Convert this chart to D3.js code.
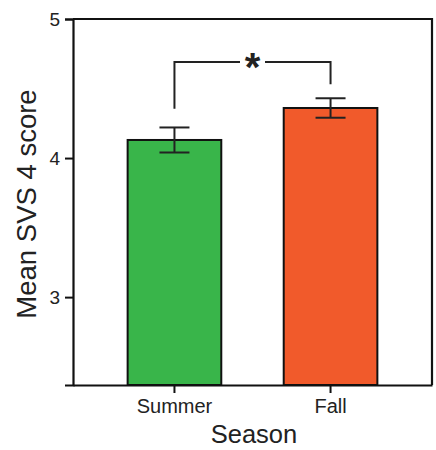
<!DOCTYPE html>
<html>
<head>
<meta charset="utf-8">
<script src="https://cdn.jsdelivr.net/npm/d3@7"></script>
<style>
  html, body { margin: 0; padding: 0; background: #fff; }
  svg { display: block; font-family: "Liberation Sans", Arial, sans-serif; }
</style>
</head>
<body>
<svg id="chart" width="436" height="450"></svg>
<script>
// Mean SVS 4 score by season, with standard error
const seasons = ["Summer", "Fall"];
const means = [4.13, 4.36];
const errors = [0.09, 0.07];
const colors = ["#39b54a", "#f15a2b"];
const yTicks = [3, 4, 5];
// significance bracket: leg ends and top level, in score units
const bracketLegs = [4.355, 4.53];
const bracketTop = 4.69;
const bracketLabel = "*";

(function () {
  const svg = d3.select("#chart");
  const plotL = 73, plotR = 432, plotT = 19, plotB = 385;
  const font = "Liberation Sans, Arial, sans-serif";

  const x = d3.scaleBand()
    .domain(seasons)
    .range([plotL, plotR])
    .paddingInner(0.4)
    .paddingOuter(0.35);

  const y = d3.scaleLinear()
    .domain([2.368, 5])
    .range([plotB, plotT]);

  // bars
  svg.selectAll("rect.bar")
    .data(seasons)
    .join("rect")
    .attr("class", "bar")
    .attr("x", d => x(d))
    .attr("width", x.bandwidth())
    .attr("y", (d, i) => y(means[i]))
    .attr("height", (d, i) => plotB - y(means[i]))
    .attr("fill", (d, i) => colors[i])
    .attr("stroke", "#111")
    .attr("stroke-width", 2);

  // error bars
  const capW = 30;
  const mid = d => x(d) + x.bandwidth() / 2;
  const eb = svg.selectAll("g.err").data(seasons).join("g").attr("class", "err")
    .attr("stroke", "#222").attr("stroke-width", 2);
  eb.append("line")
    .attr("x1", mid).attr("x2", mid)
    .attr("y1", (d, i) => y(means[i] + errors[i])).attr("y2", (d, i) => y(means[i] - errors[i]));
  eb.append("line")
    .attr("x1", d => mid(d) - capW / 2).attr("x2", d => mid(d) + capW / 2)
    .attr("y1", (d, i) => y(means[i] + errors[i])).attr("y2", (d, i) => y(means[i] + errors[i]));
  eb.append("line")
    .attr("x1", d => mid(d) - capW / 2).attr("x2", d => mid(d) + capW / 2)
    .attr("y1", (d, i) => y(means[i] - errors[i])).attr("y2", (d, i) => y(means[i] - errors[i]));

  // frame (top and right)
  svg.append("path")
    .attr("d", `M${plotL},${plotT}H${plotR}V${plotB}`)
    .attr("fill", "none").attr("stroke", "#111").attr("stroke-width", 2.2);

  // y axis
  const yAxis = svg.append("g")
    .attr("transform", `translate(${plotL},0)`)
    .call(d3.axisLeft(y).tickValues(yTicks).tickSize(8).tickPadding(5).tickFormat(d3.format("d")));
  yAxis.select(".domain").attr("stroke", "#111").attr("stroke-width", 2.2);
  yAxis.selectAll(".tick line").attr("stroke", "#111").attr("stroke-width", 2);
  yAxis.selectAll(".tick text").attr("font-size", 19).attr("fill", "#222")
    .style("font-family", font);

  // x axis
  const xAxis = svg.append("g")
    .attr("transform", `translate(0,${plotB})`)
    .call(d3.axisBottom(x).tickSize(8).tickPadding(6).tickSizeOuter(0));
  xAxis.select(".domain").attr("stroke", "#111").attr("stroke-width", 2.2);
  xAxis.selectAll(".tick line").attr("stroke", "#111").attr("stroke-width", 2);
  xAxis.selectAll(".tick text").attr("font-size", 20).attr("fill", "#222")
    .style("font-family", font);

  // significance bracket
  const cx = seasons.map(mid);
  const midX = (cx[0] + cx[1]) / 2;
  const gap = 12.5;
  const br = svg.append("g").attr("stroke", "#222").attr("stroke-width", 2).attr("fill", "none");
  br.append("path")
    .attr("d", `M${cx[0]},${y(bracketLegs[0])}V${y(bracketTop)}H${midX - gap}`);
  br.append("path")
    .attr("d", `M${midX + gap},${y(bracketTop)}H${cx[1]}V${y(bracketLegs[1])}`);
  svg.append("text")
    .attr("x", midX).attr("y", y(bracketTop) + 19)
    .attr("text-anchor", "middle")
    .attr("font-size", 40).attr("font-weight", "bold").attr("fill", "#222")
    .text(bracketLabel);

  // axis titles
  svg.append("text")
    .attr("transform", `translate(36,204) rotate(-90)`)
    .attr("text-anchor", "middle")
    .attr("font-size", 27.5).attr("fill", "#222")
    .text("Mean SVS 4 score");
  svg.append("text")
    .attr("x", 254).attr("y", 443)
    .attr("text-anchor", "middle")
    .attr("font-size", 25.5).attr("fill", "#222")
    .text("Season");
})();
</script>
</body>
</html>
